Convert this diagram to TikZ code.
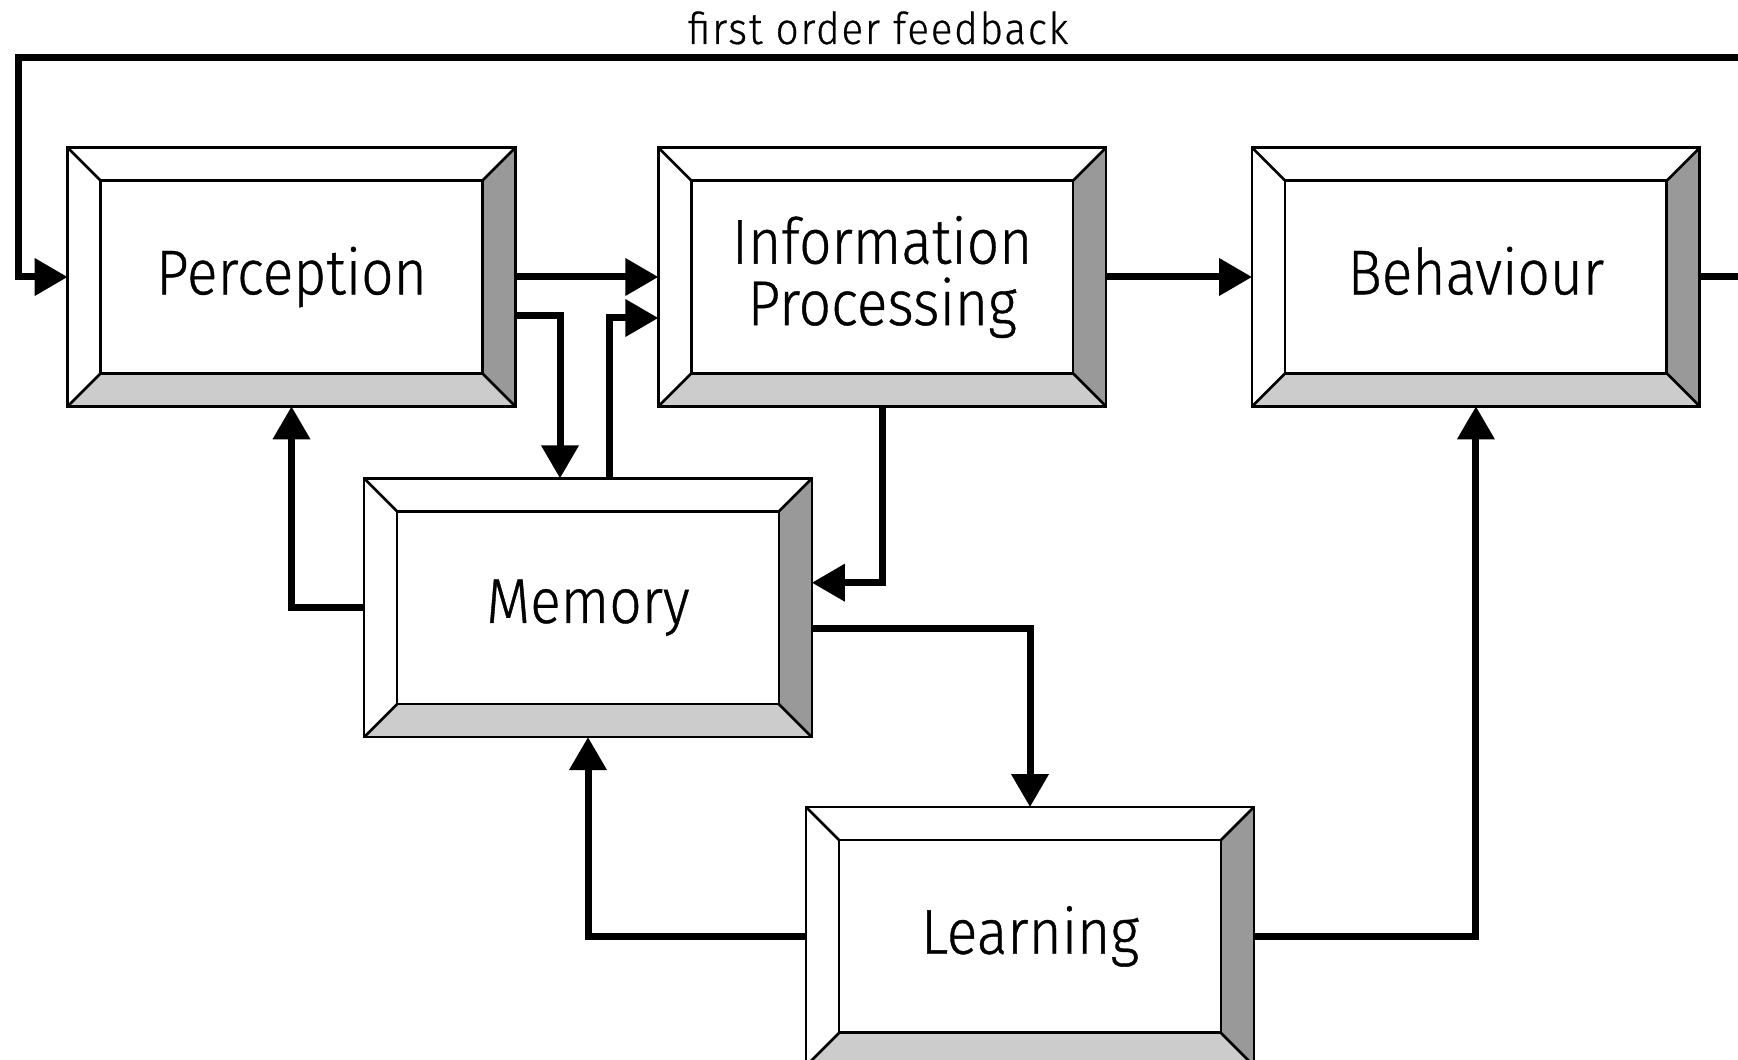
\documentclass[tikz,border=0pt]{standalone}
\usepackage{fontspec}
\usepackage{xcolor}
\usepackage{tikz}
\usetikzlibrary{arrows.meta,positioning}
\newfontfamily\diagfont{Fira Sans Light}[FakeStretch=0.9, FakeBold=0.6]
\newfontfamily\loopfont{Fira Sans Light}[FakeStretch=0.92, FakeBold=0.6, LetterSpace=4]
\definecolor{bevelDark}{HTML}{999999}
\definecolor{bevelLight}{HTML}{CCCCCC}
\newcommand{\bev}{6.6mm}
% raised frame round a box node
\newcommand{\bevelframe}[1]{%
  \begin{pgfinterruptpath}
    \fill[bevelDark] (#1.north east) -- (#1.south east)
      -- ([shift={(-\bev,\bev)}]#1.south east)
      -- ([shift={(-\bev,-\bev)}]#1.north east) -- cycle;
    \fill[bevelLight] (#1.south west) -- (#1.south east)
      -- ([shift={(-\bev,\bev)}]#1.south east)
      -- ([shift={(\bev,\bev)}]#1.south west) -- cycle;
    \draw[frame line] (#1.north west) rectangle (#1.south east);
    \draw[frame line] ([shift={(\bev,-\bev)}]#1.north west)
      rectangle ([shift={(-\bev,\bev)}]#1.south east);
    \draw[frame line] (#1.north west) -- ++(\bev,-\bev)
      (#1.north east) -- ++(-\bev,-\bev)
      (#1.south west) -- ++(\bev,\bev)
      (#1.south east) -- ++(-\bev,\bev);
  \end{pgfinterruptpath}}
\tikzset{
  flow/.style={-{Triangle[length=6.6mm, width=7.2mm]}, line width=1.4mm},
  frame line/.style={line width=1.5pt, line join=miter},
  bevel box/.style={minimum width=89.4mm, minimum height=51.6mm,
    inner sep=0pt, align=center,
    font=\diagfont\fontsize{36pt}{35pt}\selectfont,
    append after command={\pgfextra{\bevelframe{\tikzlastnode}}}},
  loop label/.style={font=\loopfont\fontsize{25pt}{30pt}\selectfont,
    anchor=base, inner sep=0pt}
}
\begin{document}
\begin{tikzpicture}
  \useasboundingbox (0,0) rectangle (34.76,-21.2);
  \clip (0,0) rectangle (34.76,-21.2);
  \node[bevel box] (perc) at (5.83,-5.54) {Perception};
  \node[bevel box, right=28.6mm of perc] (info) {Information\\Processing};
  \node[bevel box, right=29.2mm of info] (behav) {Behaviour\vphantom{p}};
  \node[bevel box, below=14.4mm of perc, xshift=59.3mm] (mem) {Memory};
  \node[bevel box, below=14mm of mem, xshift=88.4mm] (learn) {Learning};
  \coordinate (fbcorner) at (0.36,-1.15);
  \node[loop label] (fbtext) at (17.56,-0.88) {first order feedback};
  % forward chain
  \draw[flow] (perc.east) -- (info.west);
  \draw[flow] (info.east) -- (behav.west);
  % memory links
  \draw[flow] ([yshift=-7.8mm]perc.east) -| ([xshift=-5.6mm]mem.north);
  \draw[flow] ([xshift=4.2mm]mem.north) |- ([yshift=-8.2mm]info.west);
  \draw[flow] (info.south) |- ([yshift=5mm]mem.east);
  \draw[flow] (mem.west) -| (perc.south);
  \draw[flow] ([yshift=-4.2mm]mem.east) -| (learn.north);
  \draw[flow] (learn.west) -| (mem.south);
  \draw[flow] (learn.east) -| (behav.south);
  % feedback loop, runs past the right edge
  \draw[flow] (behav.east) -- ++(2cm,0) |- (fbcorner) |- (perc.west);
\end{tikzpicture}
\end{document}
